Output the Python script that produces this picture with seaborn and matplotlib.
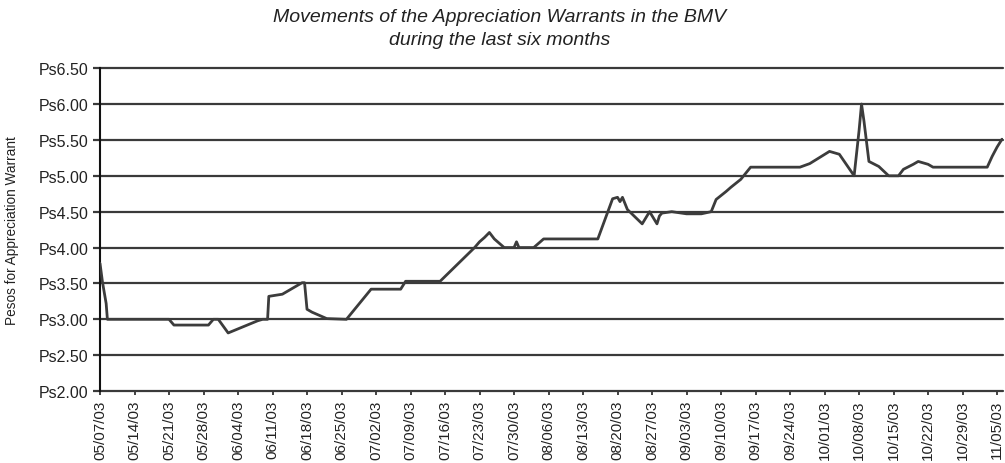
import pandas as pd
import numpy as np
import seaborn as sns
import matplotlib.pyplot as plt
import matplotlib.dates as mdates
from matplotlib.ticker import FuncFormatter

# readings of the price line, in order
dates = [
  "2003-05-07", "2003-05-07 12:00", "2003-05-08 06:00", "2003-05-08 12:00",
  "2003-05-21", "2003-05-22", "2003-05-29", "2003-05-30", "2003-05-31",
  "2003-06-02", "2003-06-08", "2003-06-09", "2003-06-10", "2003-06-10 06:00",
  "2003-06-13", "2003-06-17", "2003-06-17 12:00", "2003-06-18", "2003-06-19",
  "2003-06-22", "2003-06-26", "2003-07-01", "2003-07-07", "2003-07-08",
  "2003-07-15", "2003-07-22", "2003-07-23", "2003-07-24", "2003-07-25",
  "2003-07-26", "2003-07-28", "2003-07-30", "2003-07-30 12:00", "2003-07-31",
  "2003-08-03", "2003-08-05", "2003-08-16", "2003-08-19", "2003-08-20",
  "2003-08-20 12:00", "2003-08-21", "2003-08-22", "2003-08-25", "2003-08-26 12:00",
  "2003-08-28", "2003-08-28 12:00", "2003-08-29", "2003-08-31", "2003-09-03",
  "2003-09-06", "2003-09-08", "2003-09-09", "2003-09-11", "2003-09-12",
  "2003-09-14", "2003-09-16", "2003-09-26", "2003-09-28", "2003-10-02",
  "2003-10-04", "2003-10-07", "2003-10-08", "2003-10-08 12:00", "2003-10-09",
  "2003-10-10", "2003-10-12", "2003-10-14", "2003-10-16", "2003-10-17",
  "2003-10-19", "2003-10-20", "2003-10-22", "2003-10-23", "2003-11-03",
  "2003-11-04", "2003-11-05", "2003-11-06",
]
prices = [
  3.78, 3.52, 3.22, 3.00,
  3.00, 2.92, 2.92, 3.00, 3.00,
  2.81, 2.98, 3.00, 3.00, 3.32,
  3.35, 3.51, 3.51, 3.14, 3.10,
  3.01, 3.00, 3.42, 3.42, 3.53,
  3.53, 4.00, 4.08, 4.14, 4.21,
  4.12, 4.00, 4.00, 4.08, 4.00,
  4.00, 4.12, 4.12, 4.68, 4.70,
  4.64, 4.70, 4.53, 4.33, 4.50,
  4.33, 4.44, 4.48, 4.50, 4.47,
  4.47, 4.50, 4.67, 4.78, 4.84,
  4.95, 5.12, 5.12, 5.17, 5.34,
  5.30, 5.00, 5.63, 6.00, 5.76,
  5.20, 5.13, 5.00, 5.00, 5.09,
  5.16, 5.20, 5.16, 5.12, 5.12,
  5.27, 5.40, 5.51,
]
y_ticks = [2.0, 2.5, 3.0, 3.5, 4.0, 4.5, 5.0, 5.5, 6.0, 6.5]
tick_start = "2003-05-07"
tick_end = "2003-11-05"

title = "Movements of the Appreciation Warrants in the BMV\nduring the last six months"
ylabel = "Pesos for Appreciation Warrant"

df = pd.DataFrame({"date": pd.to_datetime(dates, format='mixed'), "price": prices})

sns.set_style("white")
plt.rcParams['font.family'] = ['Liberation Sans', 'DejaVu Sans']

fig = plt.figure(figsize=(10.05, 4.64), dpi=100)
ax = fig.add_axes([0.0995, 0.155, 0.8985, 0.696])

for v in y_ticks:
  ax.axhline(v, color='#3a3a3a', lw=1.6, zorder=1, clip_on=False)

sns.lineplot(data=df, x='date', y='price', estimator=None, sort=False,
             color='#3c3c3c', lw=2.0, ax=ax, zorder=3)

x0 = pd.Timestamp(tick_start)
ax.set_xlim(x0, x0 + pd.Timedelta(days=183.2))
ax.set_ylim(2.0, 6.5)

ax.set_yticks(y_ticks)
ax.yaxis.set_major_formatter(FuncFormatter(lambda v, p: f"Ps{v:.2f}"))
ticks = pd.date_range(tick_start, tick_end, freq='7D')
ax.set_xticks(ticks)
ax.xaxis.set_major_formatter(mdates.DateFormatter('%m/%d/%y'))
plt.setp(ax.get_xticklabels(), rotation=90)

ax.tick_params(axis='y', which='major', length=5, width=1.6, color='#3a3a3a',
               labelsize=11.5, labelcolor='#222222', pad=3.5, left=True)
ax.tick_params(axis='x', which='major', length=3, width=1.2, color='#222222',
               labelsize=11, labelcolor='#222222', pad=3, bottom=True)

for s in ['top', 'right', 'bottom']:
  ax.spines[s].set_visible(False)
ax.spines['left'].set_color('#111111')
ax.spines['left'].set_linewidth(1.5)

ax.set_xlabel('')
ax.set_ylabel(ylabel, fontsize=9.8, color='#222222')
ax.yaxis.set_label_coords(-0.09, 0.5)

fig.text(0.497, 0.98, title, ha='center', va='top', fontsize=14,
         style='italic', color='#222222', linespacing=1.45)

fig.savefig('out.png', dpi=100)
